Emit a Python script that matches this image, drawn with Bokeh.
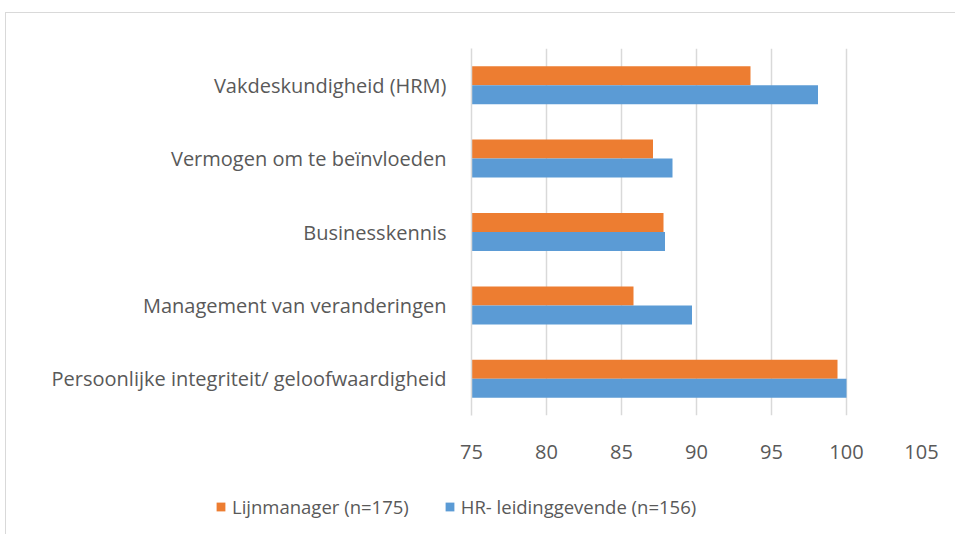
from bokeh.plotting import figure
from bokeh.models import ColumnDataSource, FactorRange, Range1d, Legend, LegendItem, FixedTicker
from bokeh.transform import dodge
from bokeh.embed import file_html
from bokeh.resources import INLINE

categories = [
    "Persoonlijke integriteit/ geloofwaardigheid",
    "Management van veranderingen",
    "Businesskennis",
    "Vermogen om te beïnvloeden",
    "Vakdeskundigheid (HRM)",
]
lijnmanager = [99.4, 85.8, 87.8, 87.1, 93.6]
hr_leiding = [100.0, 89.7, 87.9, 88.4, 98.1]
series_names = ["Lijnmanager (n=175)", "HR- leidinggevende (n=156)"]
x_ticks = [75, 80, 85, 90, 95, 100, 105]

FONT = "Open Sans"
FS = "20px"
TXT = "#595959"
GRID = "#D9D9D9"
ORANGE = "#ED7D31"
BLUE = "#5B9BD5"

src = ColumnDataSource(dict(cat=categories, a=lijnmanager, b=hr_leiding))

W = 950
p = figure(
    width=W, height=462,
    y_range=FactorRange(factors=categories, range_padding=0),
    x_range=Range1d(75, 105),
    output_backend="svg", toolbar_location=None,
    min_border_left=465, min_border_right=35, min_border_top=35, min_border_bottom=60,
)
p.outline_line_color = None
p.background_fill_color = "white"
p.border_fill_color = "white"
p.styles = {"margin-left": "5px", "margin-top": "12px",
            "border-top": "1.5px solid #D9D9D9", "border-left": "1.5px solid #D9D9D9"}

bh = 0.259
ra = p.hbar(y=dodge("cat", 0.1295, range=p.y_range), left=75, right="a", height=bh,
            source=src, fill_color=ORANGE, line_color=None)
rb = p.hbar(y=dodge("cat", -0.1295, range=p.y_range), left=75, right="b", height=bh,
            source=src, fill_color=BLUE, line_color=None)

p.xgrid.grid_line_color = GRID
p.xgrid.grid_line_width = 1.5
p.xgrid.ticker = FixedTicker(ticks=x_ticks)
p.ygrid.grid_line_color = None

p.xaxis.ticker = FixedTicker(ticks=x_ticks)
p.xaxis.axis_line_color = None
p.xaxis.major_tick_line_color = None
p.xaxis.minor_tick_line_color = None
p.xaxis.major_label_standoff = 23
p.xaxis.major_label_text_font = FONT
p.xaxis.major_label_text_font_size = FS
p.xaxis.major_label_text_color = TXT

p.yaxis.axis_line_color = GRID
p.yaxis.axis_line_width = 1.5
p.yaxis.major_tick_line_color = None
p.yaxis.minor_tick_line_color = None
p.yaxis.major_label_standoff = 19
p.yaxis.major_label_text_font = FONT
p.yaxis.major_label_text_font_size = FS
p.yaxis.major_label_text_color = TXT

# Legend strip: a separate root (not frame-aligned); its series glyphs have zero size
lg = figure(width=W, height=60, x_range=Range1d(0, 1), y_range=Range1d(0, 1),
            output_backend="svg", toolbar_location=None,
            min_border_left=0, min_border_right=0, min_border_top=0, min_border_bottom=0)
lg.axis.visible = False
lg.grid.visible = False
lg.outline_line_color = None
lg.border_fill_color = "white"
lg.styles = {"margin-left": "5px", "border-left": "1.5px solid #D9D9D9"}
la = lg.hbar(y="a", left="a", right="a", height=0, source=src, fill_color=ORANGE, line_color=None)
lb = lg.hbar(y="b", left="b", right="b", height=0, source=src, fill_color=BLUE, line_color=None)
legend = Legend(
    items=[LegendItem(label=series_names[0], renderers=[la]),
           LegendItem(label=series_names[1], renderers=[lb])],
    orientation="horizontal", location=(209, 15),
    border_line_color=None, background_fill_alpha=0,
    label_text_font=FONT, label_text_font_size="18.5px", label_text_color=TXT,
    glyph_width=11, glyph_height=11, spacing=35, label_standoff=6,
    margin=0, padding=5,
)
lg.add_layout(legend, "center")

open("out.html", "w").write(file_html([p, lg], INLINE))
